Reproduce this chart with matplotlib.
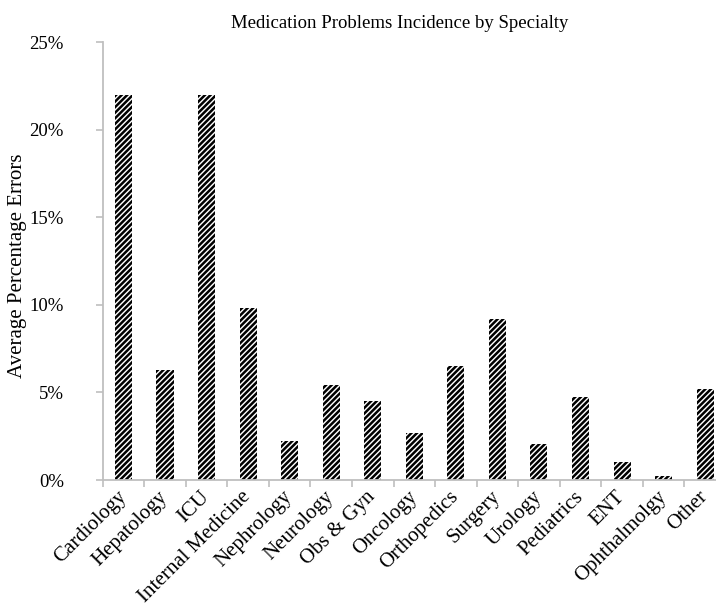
import matplotlib
matplotlib.use("Agg")
import matplotlib.pyplot as plt
import numpy as np
from matplotlib.ticker import PercentFormatter

specialties = ["Cardiology", "Hepatology", "ICU", "Internal Medicine", "Nephrology",
               "Neurology", "Obs & Gyn", "Oncology", "Orthopedics", "Surgery",
               "Urology", "Pediatrics", "ENT", "Ophthalmolgy", "Other"]
error_pct = [22.0, 6.3, 21.95, 9.8, 2.2, 5.45, 4.5, 2.7, 6.5, 9.2,
             2.05, 4.75, 1.05, 0.25, 5.2]

plt.rcParams["font.family"] = ["Liberation Serif", "DejaVu Serif"]
plt.rcParams["hatch.linewidth"] = 1.8

axis_grey = "#bfbfbf"

fig = plt.figure(figsize=(7.16, 6.09), dpi=100)
ax = fig.add_axes([0.1434, 0.2118, 0.8705, 0.7192])

x = np.arange(len(specialties))
ax.bar(x, error_pct, width=0.41, color="white", edgecolor="black",
       linewidth=0, hatch="//////")

ax.set_xlim(-0.5, len(specialties) - 0.5)
ax.set_ylim(0, 25)
ax.set_yticks(np.arange(0, 26, 5))
ax.yaxis.set_major_formatter(PercentFormatter(decimals=0))

for side in ("top", "right"):
    ax.spines[side].set_visible(False)
for side in ("left", "bottom"):
    ax.spines[side].set_color(axis_grey)
    ax.spines[side].set_linewidth(1.3)

ax.tick_params(axis="y", direction="out", length=5, width=1.2, color=axis_grey,
               labelsize=13.5, pad=23)

# category boundaries carry the tick marks, labels sit at bar centres
ax.set_xticks(x)
ax.set_xticks(np.arange(-0.5, len(specialties)), minor=True)
ax.tick_params(axis="x", which="major", length=0, pad=10)
ax.tick_params(axis="x", which="minor", direction="out", length=5, width=1.2,
               color=axis_grey)
ax.set_xticklabels(specialties, rotation=45, ha="right", va="center",
                   rotation_mode="anchor", fontsize=15)

ax.set_ylabel("Average Percentage Errors", fontsize=15, va="center")
ax.yaxis.set_label_coords(-0.136, 0.49)
ax.set_title("Medication Problems Incidence by Specialty", fontsize=13.5,
             x=0.477, pad=10)

fig.savefig("out.png", dpi=100)
